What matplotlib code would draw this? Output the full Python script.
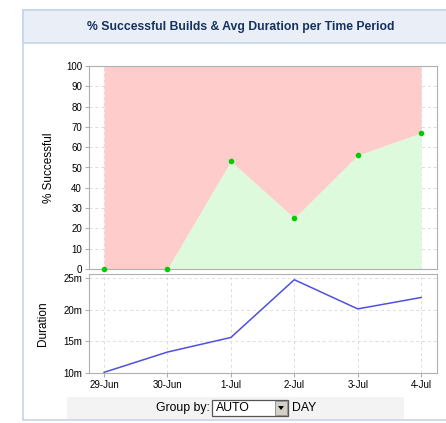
import matplotlib
matplotlib.use('Agg')
import matplotlib.pyplot as plt
from matplotlib.patches import Rectangle, Polygon

plt.rcParams['font.family'] = ['Liberation Sans', 'DejaVu Sans']

days = ['29-Jun', '30-Jun', '1-Jul', '2-Jul', '3-Jul', '4-Jul']
pct_success = [0, 0, 53, 25, 56, 67]
duration_min = [10.1, 13.3, 15.6, 24.7, 20.1, 21.9]
pct_ticks = list(range(0, 101, 10))
dur_ticks = [10, 15, 20, 25]

W, H = 446, 423
fig = plt.figure(figsize=(W / 100, H / 100), dpi=100)


def box(l, t, r, b):
    # pixel box -> figure fraction
    return [l / W, 1 - b / H, (r - l) / W, (b - t) / H]


def rect(l, t, r, b, z=-5, **kw):
    fig.patches.append(Rectangle((l / W, 1 - b / H), (r - l) / W, (b - t) / H,
                                 transform=fig.transFigure, zorder=z, **kw))


# outer panel and title band
rect(23, 10, W + 2, 420, facecolor='white', edgecolor='#c5d5ea', lw=1.2)
rect(23, 10, W + 2, 43, facecolor='#eaeff7', edgecolor='#c5d5ea', lw=1.2)
fig.text(241 / W, 1 - 27 / H, '% Successful Builds & Avg Duration per Time Period',
         ha='center', va='center', fontsize=8.8, fontweight='bold', color='#15315e')

x = list(range(len(days)))
xlim = (-0.237, 5.25)
spine_c = '#b0b0b0'
grid_kw = dict(color='#dddddd', linestyle=(0, (3, 3)), linewidth=0.7)
tick_fs = 7

# top: % successful
ax1 = fig.add_axes(box(89, 66, 437, 269))
ax1.set_xlim(*xlim)
ax1.set_ylim(0, 100)
ax1.set_yticks(pct_ticks)
ax1.set_xticks(x)
ax1.set_xticklabels([])
ax1.grid(True, **grid_kw)
ax1.set_axisbelow(True)
ax1.fill_between(x, pct_success, 100, color='#ffcccc', lw=0, zorder=2)
ax1.fill_between(x, 0, pct_success, color='#ddfadd', lw=0, zorder=2)
ax1.scatter(x, pct_success, s=9, color='#00cc00', zorder=3, clip_on=False)
ax1.set_ylabel('% Successful', fontsize=8.5)
ax1.yaxis.set_label_coords(-0.098, 0.5)
ax1.tick_params(axis='y', labelsize=tick_fs, length=3, color=spine_c, pad=2)
ax1.tick_params(axis='x', length=0)
for s in ax1.spines.values():
    s.set_color(spine_c)
    s.set_linewidth(0.8)

# bottom: duration
ax2 = fig.add_axes(box(89, 274, 437, 373))
ax2.set_xlim(*xlim)
ax2.set_ylim(10, 25.6)
ax2.set_yticks(dur_ticks)
ax2.set_yticklabels([f'{v}m' for v in dur_ticks])
ax2.set_xticks(x)
ax2.set_xticklabels(days)
ax2.grid(True, **grid_kw)
ax2.plot(x, duration_min, color='#5050e0', lw=1.1)
ax2.set_ylabel('Duration', fontsize=8.5)
ax2.yaxis.set_label_coords(-0.115, 0.5)
ax2.tick_params(labelsize=tick_fs, length=3, color=spine_c, pad=2)
for s in ax2.spines.values():
    s.set_color(spine_c)
    s.set_linewidth(0.8)

# group-by bar
rect(67, 397, 404, 419, facecolor='#f3f3f3', lw=0)
fig.text(210 / W, 1 - 408 / H, 'Group by:', ha='right', va='center', fontsize=8.8)
rect(212, 400, 288, 416, z=1, facecolor='white', edgecolor='#555555', lw=0.9)
rect(275, 401, 287, 415, z=2, facecolor='#d4d0c8', edgecolor='#888888', lw=0.6)
fig.patches.append(Polygon([(278 / W, 1 - 406 / H), (284 / W, 1 - 406 / H),
                            (281 / W, 1 - 410 / H)], closed=True, zorder=3,
                           transform=fig.transFigure, facecolor='black', lw=0))
fig.text(216 / W, 1 - 408 / H, 'AUTO', ha='left', va='center', fontsize=8.8)
fig.text(292 / W, 1 - 408 / H, 'DAY', ha='left', va='center', fontsize=8.8)

fig.savefig('out.png', dpi=100)
